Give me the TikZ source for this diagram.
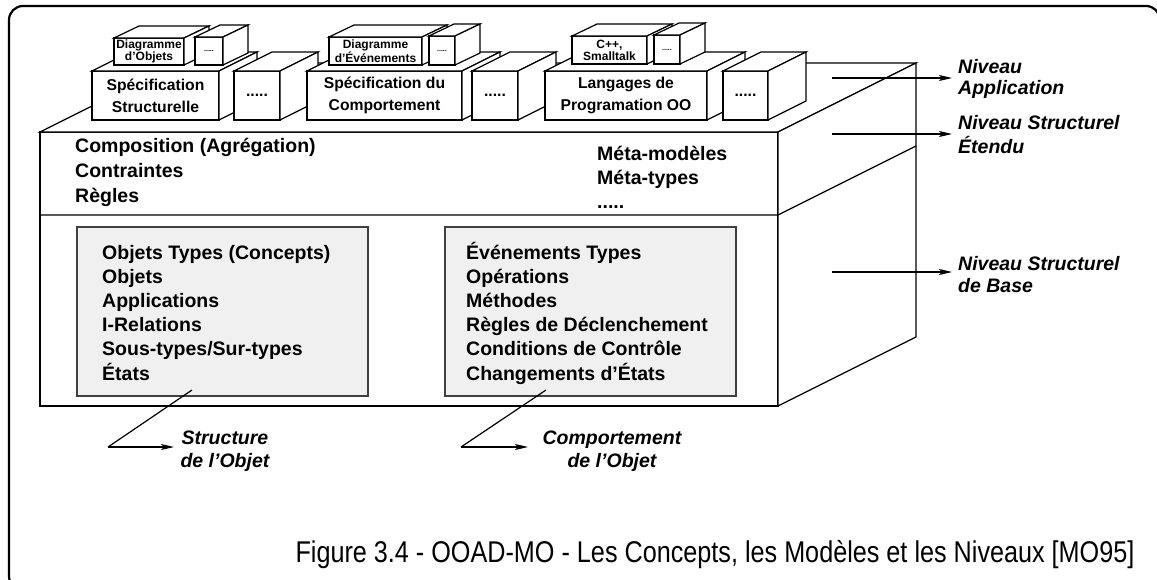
\documentclass[tikz,border=0pt]{standalone}
\usepackage{fontspec}
\setmainfont{Liberation Sans}
\usetikzlibrary{arrows.meta}
\tikzset{
 ln/.style={line width=1.2pt, line join=miter},
 face/.style={ln, draw=black, fill=white},
 frontface/.style={face, rectangle, inner sep=0pt, outer sep=0pt, align=center},
 txt/.style={inner sep=0pt, anchor=base west, font=\bfseries\fontsize{19.5}{24}\selectfont},
 lbl/.style={inner sep=0pt, anchor=base west, font=\bfseries\itshape\fontsize{19.5}{22}\selectfont},
 clbl/.style={lbl, anchor=base},
 arr/.style={ln, -{Stealth[length=13pt,width=6pt,inset=3pt]}},
 graybox/.style={draw=black!75, line width=1.2pt, fill=black!6, inner sep=0pt, outer sep=0pt, anchor=north west, minimum width=291, minimum height=169}
}
\newcommand\cuboid[9]{%
 \node[frontface, minimum width={#4-#2}, minimum height={#5-#3}, font=#8] (#1) at ({(#2+#4)/2},{(#3+#5)/2}) {#9};
 \filldraw[face] (#1.north west) -- ++(#6,-#7) -- ++({#4-#2},0) -- (#1.north east) -- cycle;
 \filldraw[face] (#1.north east) -- ++(#6,-#7) -- ++(0,{#5-#3}) -- (#1.south east) -- cycle;
}
\newcommand\bigf{\bfseries\fontsize{15.7}{22}\selectfont}
\newcommand\smallf{\bfseries\fontsize{12}{12}\selectfont}
\newcommand\tinyf{\bfseries\fontsize{7}{8}\selectfont}
\begin{document}
\begin{tikzpicture}[x=1pt,y=-1pt]
\useasboundingbox (0,0) rectangle (1157,579);
\begin{scope}
\clip (0,0) rectangle (1157,579);
\draw[line width=2.2pt, rounded corners=14pt] (1160,40) -- (1160,6) -- (9,6) -- (9,590) -- (40,590);
\end{scope}

% main block
\node[frontface, minimum width=738, minimum height=274] (base) at (409,269) {};
\filldraw[face] (base.north west) -- ++(138,-69) -- ++(738,0) -- (base.north east) -- cycle;
\filldraw[face] (base.north east) -- ++(138,-69) -- ++(0,274) -- (base.south east) -- cycle;
\coordinate (divL) at (40,215);
\coordinate (divR) at (778,215);
\coordinate (divB) at (916,146);
\draw[ln] (divL) -- (divR) -- (divB);

% big boxes
\cuboid{S1}{92}{71}{219}{120}{38}{19}{\bigf}{Spécification\\Structurelle}
\cuboid{D1}{234}{71}{280}{120}{38}{19}{\bigf}{.....}
\cuboid{S2}{307}{71}{462}{120}{38}{19}{\bigf}{Spécification du\\Comportement}
\cuboid{D2}{472}{71}{518}{120}{38}{19}{\bigf}{.....}
\cuboid{S3}{545}{71}{707}{120}{38}{19}{\bigf}{Langages de\\Programation OO}
\cuboid{D3}{723}{71}{768}{120}{38}{19}{\bigf}{.....}

% small boxes
\cuboid{d1}{114}{38}{184}{65}{25}{12}{\smallf}{Diagramme\\d’Objets}
\cuboid{e1}{195}{37}{223}{65}{25}{12}{\tinyf}{.....}
\cuboid{d2}{329}{37}{422}{65}{25}{12}{\smallf}{Diagramme\\d’Événements}
\cuboid{e2}{429}{36}{455}{65}{25}{12}{\tinyf}{.....}
\cuboid{d3}{572}{36}{647}{64}{25}{12}{\smallf}{C++,\\Smalltalk}
\cuboid{e3}{654}{35}{680}{64}{25}{12}{\tinyf}{.....}

% extended level text
\node[txt] (c1) at (75,152) {Composition (Agrégation)};
\node[txt] (c2) at (75,177) {Contraintes};
\node[txt] (c3) at (75,202) {Règles};
\node[txt] (m1) at (597,160) {Méta-modèles};
\node[txt] (m2) at (597,184) {Méta-types};
\node[txt] (m3) at (597,208) {.....};

% gray boxes
\node[graybox] (gL) at (77,227) {};
\node[graybox] (gR) at (445,227) {};
\foreach \t [count=\i from 0] in {Objets Types (Concepts),Objets,Applications,I-Relations,Sous-types/Sur-types,États}
  \node[txt] (tl\i) at (102,{259+24.2*\i}) {\t};
\foreach \t [count=\i from 0] in {Événements Types,Opérations,Méthodes,Règles de Déclenchement,Conditions de Contrôle,Changements d’États}
  \node[txt] (tr\i) at (466,{259+24.2*\i}) {\t};

% level labels
\coordinate (a1s) at (832,78); \coordinate (a1e) at (952,78);
\coordinate (a2s) at (832,134); \coordinate (a2e) at (952,134);
\coordinate (a3s) at (832,272); \coordinate (a3e) at (952,272);
\draw[arr] (a1s) -- (a1e);
\draw[arr] (a2s) -- (a2e);
\draw[arr] (a3s) -- (a3e);
\node[lbl] (n1a) at (958,73) {Niveau};
\node[lbl] (n1b) at (958,94) {Application};
\node[lbl] (n2a) at (958,129) {Niveau Structurel};
\node[lbl] (n2b) at (958,153) {Étendu};
\node[lbl] (n3a) at (958,270) {Niveau Structurel};
\node[lbl] (n3b) at (958,292) {de Base};

% callouts
\coordinate (s0) at (192,390); \coordinate (s1) at (108,447); \coordinate (s2) at (174,447);
\draw[ln] (s0) -- (s1);
\draw[arr] (s1) -- (s2);
\node[clbl] (st1) at (225,444) {Structure};
\node[clbl] (st2) at (225,467) {de l’Objet};
\coordinate (k0) at (546,390); \coordinate (k1) at (461,447); \coordinate (k2) at (528,447);
\draw[ln] (k0) -- (k1);
\draw[arr] (k1) -- (k2);
\node[clbl] (ct1) at (612,444) {Comportement};
\node[clbl] (ct2) at (612,467) {de l’Objet};

% caption
\node[anchor=base, inner sep=0pt, font=\fontsize{30}{36}\selectfont] (cap) at (715,562) {\scalebox{0.84}[1]{Figure 3.4 - OOAD-MO - Les Concepts, les Modèles et les Niveaux [MO95]}};
\end{tikzpicture}
\end{document}
